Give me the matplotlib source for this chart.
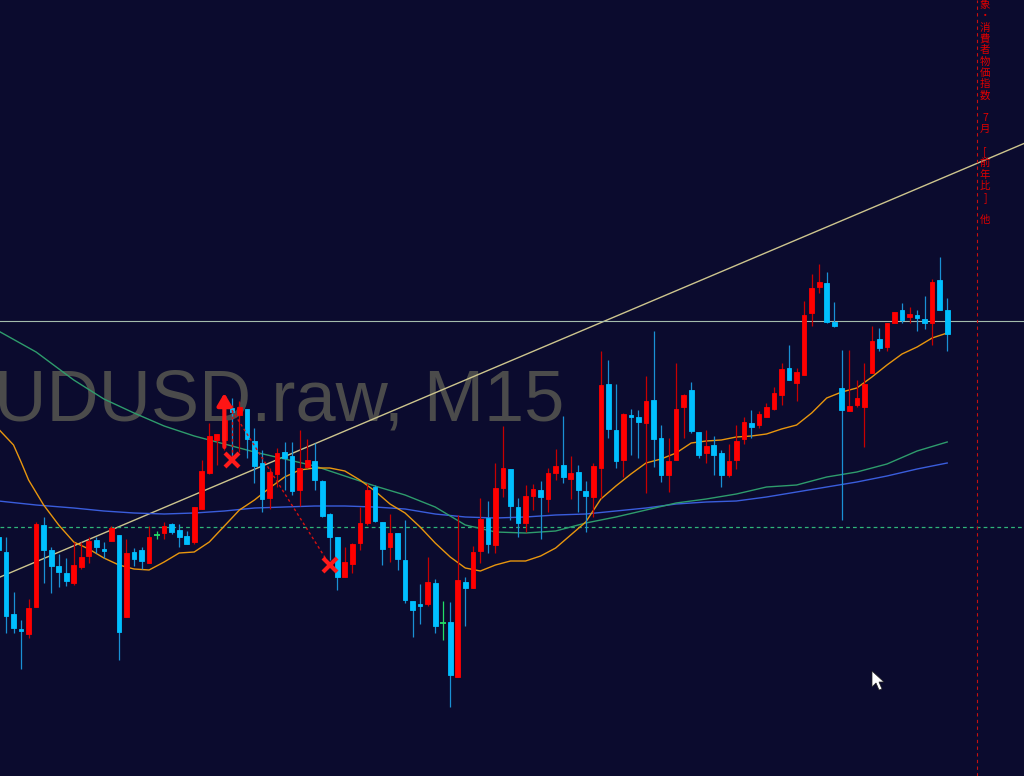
import matplotlib.pyplot as plt
import numpy as np
from matplotlib.patches import Polygon

# AUDUSD M15 bars, first bar (index -1) is cut by the left edge
start_index = -1
opens = [0.67463, 0.67448, 0.67386, 0.67371, 0.67366, 0.67393, 0.67475, 0.67450, 0.67434, 0.67427,
         0.67417, 0.67433, 0.67444, 0.67460, 0.67451, 0.67459, 0.67465, 0.67383, 0.67448, 0.67450,
         0.67437, 0.67465, 0.67467, 0.67476, 0.67470, 0.67464, 0.67458, 0.67491, 0.67527, 0.67560,
         0.67560, 0.67592, 0.67585, 0.67591, 0.67559, 0.67537, 0.67502, 0.67526, 0.67548, 0.67544,
         0.67510, 0.67533, 0.67539, 0.67519, 0.67486, 0.67463, 0.67423, 0.67436, 0.67457, 0.67477,
         0.67513, 0.67478, 0.67453, 0.67467, 0.67440, 0.67399, 0.67396, 0.67396, 0.67417, 0.67377,
         0.67378, 0.67323, 0.67418, 0.67412, 0.67449, 0.67482, 0.67455, 0.67512, 0.67531, 0.67493,
         0.67477, 0.67504, 0.67510, 0.67501, 0.67527, 0.67535, 0.67521, 0.67528, 0.67509, 0.67503,
         0.67532, 0.67616, 0.67570, 0.67540, 0.67585, 0.67583, 0.67577, 0.67600, 0.67562, 0.67525,
         0.67540, 0.67593, 0.67610, 0.67568, 0.67547, 0.67555, 0.67547, 0.67525, 0.67540, 0.67561,
         0.67577, 0.67575, 0.67583, 0.67591, 0.67605, 0.67632, 0.67617, 0.67625, 0.67687, 0.67713,
         0.67717, 0.67678, 0.67612, 0.67589, 0.67595, 0.67593, 0.67627, 0.67661, 0.67653, 0.67677,
         0.67690, 0.67683, 0.67685, 0.67681, 0.67677, 0.67720, 0.67690]
highs = [0.67470, 0.67463, 0.67408, 0.67380, 0.67401, 0.67478, 0.67483, 0.67453, 0.67446, 0.67442,
         0.67458, 0.67458, 0.67463, 0.67463, 0.67458, 0.67474, 0.67465, 0.67461, 0.67452, 0.67453,
         0.67474, 0.67469, 0.67478, 0.67477, 0.67476, 0.67469, 0.67493, 0.67540, 0.67577, 0.67566,
         0.67592, 0.67602, 0.67599, 0.67591, 0.67572, 0.67550, 0.67532, 0.67552, 0.67558, 0.67558,
         0.67570, 0.67561, 0.67557, 0.67520, 0.67487, 0.67463, 0.67453, 0.67457, 0.67493, 0.67517,
         0.67515, 0.67478, 0.67486, 0.67467, 0.67480, 0.67399, 0.67416, 0.67443, 0.67421, 0.67399,
         0.67398, 0.67485, 0.67423, 0.67454, 0.67502, 0.67499, 0.67537, 0.67574, 0.67531, 0.67502,
         0.67515, 0.67516, 0.67519, 0.67532, 0.67551, 0.67584, 0.67544, 0.67535, 0.67519, 0.67537,
         0.67649, 0.67640, 0.67616, 0.67587, 0.67591, 0.67590, 0.67624, 0.67669, 0.67575, 0.67562,
         0.67637, 0.67606, 0.67618, 0.67568, 0.67570, 0.67564, 0.67550, 0.67556, 0.67575, 0.67583,
         0.67590, 0.67589, 0.67597, 0.67613, 0.67637, 0.67655, 0.67632, 0.67699, 0.67726, 0.67736,
         0.67728, 0.67698, 0.67650, 0.67650, 0.67620, 0.67637, 0.67674, 0.67672, 0.67677, 0.67688,
         0.67697, 0.67693, 0.67690, 0.67704, 0.67721, 0.67743, 0.67702]
lows = [0.67445, 0.67367, 0.67367, 0.67331, 0.67362, 0.67393, 0.67417, 0.67407, 0.67413, 0.67414,
        0.67415, 0.67431, 0.67437, 0.67447, 0.67442, 0.67459, 0.67340, 0.67383, 0.67434, 0.67431,
        0.67437, 0.67461, 0.67461, 0.67466, 0.67453, 0.67456, 0.67456, 0.67491, 0.67526, 0.67535,
        0.67550, 0.67540, 0.67548, 0.67542, 0.67517, 0.67488, 0.67491, 0.67513, 0.67510, 0.67505,
        0.67494, 0.67532, 0.67510, 0.67483, 0.67440, 0.67410, 0.67423, 0.67427, 0.67450, 0.67475,
        0.67478, 0.67435, 0.67438, 0.67430, 0.67397, 0.67363, 0.67376, 0.67394, 0.67367, 0.67360,
        0.67293, 0.67323, 0.67374, 0.67412, 0.67437, 0.67447, 0.67447, 0.67503, 0.67480, 0.67463,
        0.67468, 0.67490, 0.67461, 0.67488, 0.67520, 0.67517, 0.67501, 0.67488, 0.67468, 0.67483,
        0.67502, 0.67562, 0.67532, 0.67523, 0.67545, 0.67542, 0.67507, 0.67533, 0.67518, 0.67508,
        0.67540, 0.67562, 0.67567, 0.67542, 0.67537, 0.67525, 0.67513, 0.67523, 0.67531, 0.67556,
        0.67562, 0.67572, 0.67583, 0.67590, 0.67595, 0.67620, 0.67599, 0.67625, 0.67674, 0.67707,
        0.67677, 0.67673, 0.67480, 0.67589, 0.67593, 0.67553, 0.67627, 0.67649, 0.67649, 0.67677,
        0.67677, 0.67677, 0.67669, 0.67671, 0.67655, 0.67690, 0.67649]
closes = [0.67450, 0.67384, 0.67372, 0.67369, 0.67392, 0.67476, 0.67450, 0.67434, 0.67428, 0.67419,
          0.67435, 0.67443, 0.67459, 0.67453, 0.67449, 0.67472, 0.67368, 0.67447, 0.67441, 0.67439,
          0.67463, 0.67465, 0.67474, 0.67468, 0.67463, 0.67456, 0.67493, 0.67529, 0.67564, 0.67566,
          0.67580, 0.67588, 0.67593, 0.67561, 0.67534, 0.67501, 0.67528, 0.67547, 0.67542, 0.67509,
          0.67532, 0.67540, 0.67520, 0.67484, 0.67463, 0.67423, 0.67438, 0.67456, 0.67477, 0.67510,
          0.67479, 0.67451, 0.67467, 0.67441, 0.67400, 0.67390, 0.67394, 0.67418, 0.67374, 0.67377,
          0.67325, 0.67420, 0.67412, 0.67448, 0.67481, 0.67456, 0.67512, 0.67532, 0.67494, 0.67477,
          0.67504, 0.67511, 0.67503, 0.67527, 0.67534, 0.67523, 0.67527, 0.67510, 0.67504, 0.67534,
          0.67615, 0.67571, 0.67539, 0.67586, 0.67583, 0.67578, 0.67599, 0.67561, 0.67525, 0.67539,
          0.67591, 0.67605, 0.67569, 0.67545, 0.67554, 0.67545, 0.67525, 0.67539, 0.67559, 0.67578,
          0.67573, 0.67586, 0.67593, 0.67607, 0.67631, 0.67620, 0.67628, 0.67685, 0.67712, 0.67718,
          0.67678, 0.67674, 0.67590, 0.67594, 0.67602, 0.67616, 0.67659, 0.67652, 0.67677, 0.67688,
          0.67680, 0.67686, 0.67682, 0.67677, 0.67718, 0.67690, 0.67666]

# moving averages (bar index, price)
ma_fast_idx = [-1, 1, 2, 3, 5, 7, 9, 11, 13, 15, 17, 19, 21, 23, 25, 27, 29, 31, 33, 35, 37, 39, 41,
               43, 45, 47, 49, 51, 53, 55, 57, 59, 61, 63, 65, 67, 69, 71, 73, 75, 77, 79, 81, 83,
               85, 87, 89, 91, 93, 95, 97, 99, 101, 103, 105, 107, 109, 111, 113, 115, 117, 119,
               121, 123, 125]
ma_fast = [0.67571, 0.67555, 0.67538, 0.67520, 0.67495, 0.67475, 0.67458, 0.67451, 0.67442, 0.67435,
           0.67431, 0.67430, 0.67438, 0.67447, 0.67448, 0.67458, 0.67474, 0.67490, 0.67500, 0.67512,
           0.67523, 0.67530, 0.67532, 0.67532, 0.67529, 0.67520, 0.67509, 0.67496, 0.67487, 0.67473,
           0.67457, 0.67443, 0.67432, 0.67429, 0.67435, 0.67439, 0.67439, 0.67444, 0.67452, 0.67465,
           0.67478, 0.67501, 0.67514, 0.67526, 0.67537, 0.67541, 0.67547, 0.67557, 0.67559, 0.67560,
           0.67563, 0.67564, 0.67566, 0.67571, 0.67575, 0.67587, 0.67602, 0.67608, 0.67612, 0.67623,
           0.67635, 0.67646, 0.67653, 0.67662, 0.67667]
ma_mid_idx = [-1, 4, 9, 13, 17, 21, 25, 29, 33, 37, 41, 45, 49, 53, 57, 61, 65, 69, 73, 77, 81, 85,
              89, 93, 97, 101, 105, 109, 113, 117, 121, 125]
ma_mid = [0.67669, 0.67648, 0.67620, 0.67601, 0.67587, 0.67574, 0.67564, 0.67556, 0.67548, 0.67541,
          0.67534, 0.67524, 0.67514, 0.67505, 0.67493, 0.67475, 0.67468, 0.67467, 0.67469, 0.67477,
          0.67483, 0.67490, 0.67497, 0.67501, 0.67506, 0.67513, 0.67515, 0.67523, 0.67528, 0.67536,
          0.67549, 0.67558]
ma_slow_idx = ma_mid_idx
ma_slow = [0.67499, 0.67495, 0.67492, 0.67489, 0.67487, 0.67486, 0.67487, 0.67489, 0.67492, 0.67493,
           0.67494, 0.67494, 0.67493, 0.67491, 0.67486, 0.67483, 0.67482, 0.67483, 0.67485, 0.67486,
           0.67489, 0.67492, 0.67496, 0.67498, 0.67499, 0.67503, 0.67508, 0.67513, 0.67518, 0.67524,
           0.67531, 0.67537]

trend_a = (0, 0.674255)
trend_b = (125, 0.67824)
level_price = 0.67679
dash_price = 0.67473
event_index = 129
event_text = "象・消費者物価指数 7月 [前年比] 他"

# buy arrow and the two exits
arrow_index, arrow_tail, arrow_tip = 29, 0.67553, 0.67607
exit_idx = [30, 43]
exit_price = [0.67540, 0.67435]
entry_idx = [30, 30]
entry_price = [0.67595, 0.67590]

bg = '#0b0b2e'
fig = plt.figure(figsize=(10.24, 7.76), dpi=100, facecolor=bg)
ax = fig.add_axes([0, 0, 1, 1])
ax.set_facecolor(bg)
ax.set_xticks([])
ax.set_yticks([])
for s in ax.spines.values():
    s.set_visible(False)
ax.set_xlim(-0.797, 135.2)
ax.set_ylim(0.67224, 0.68000)

ax.text(-54 / 1024, 1 - 421 / 776, "AUDUSD.raw, M15", transform=ax.transAxes,
        fontsize=52, color='#4b4b4b', family='Liberation Sans', va='baseline', zorder=0.5)

idx = np.arange(start_index, start_index + len(opens))
o = np.array(opens)
h = np.array(highs)
l = np.array(lows)
c = np.array(closes)
up = c > o
flat = c == o
body_col = np.where(up, '#ff0000', np.where(flat, '#22dd66', '#00bfff'))
wick_col = np.where(up, '#c80000', np.where(flat, '#22dd66', '#1a90d4'))

ax.axline(trend_a, trend_b, color='#cdc58e', lw=1.0, zorder=2)
ax.axhline(level_price, color='#a3bcac', lw=0.8, zorder=2)
ax.axhline(dash_price, color='#2fb57a', lw=0.9, ls=(0, (3, 2.5)), zorder=2)
ax.axvline(event_index, color='#c81010', lw=0.8, ls=(0, (3, 3)), zorder=2)

ax.plot(ma_slow_idx, ma_slow, color='#3a5ddc', lw=1.0, zorder=2.5)
ax.plot(ma_mid_idx, ma_mid, color='#2e9c6c', lw=1.0, zorder=2.5)
ax.plot(ma_fast_idx, ma_fast, color='#e8960e', lw=1.0, zorder=2.5)

ax.vlines(idx, l, h, colors=wick_col, lw=0.9, zorder=3)
nf = ~flat
ax.bar(idx[nf], np.abs(c - o)[nf], bottom=np.minimum(o, c)[nf], width=0.62,
       color=body_col[nf], edgecolor=body_col[nf], linewidth=0.6, zorder=4)
ax.hlines(o[flat], idx[flat] - 0.4, idx[flat] + 0.4, colors='#22dd66', lw=1.3, zorder=4)

# trade markers
for ei, ep, xi, xp in zip(entry_idx, entry_price, exit_idx, exit_price):
    ax.plot([ei, xi], [ep, xp], color='#d41010', lw=1.0, ls=(0, (2, 2)), zorder=5)
ax.annotate('', xy=(arrow_index, arrow_tip), xytext=(arrow_index, arrow_tail),
            arrowprops=dict(arrowstyle='-|>,head_length=0.6,head_width=0.35', color='#ff1515',
                            lw=3.0, shrinkA=0, shrinkB=0, mutation_scale=12), zorder=6)
ax.plot(exit_idx, exit_price, 'x', ms=10, mew=3, color='#ff1a1a', zorder=6)

# event label, written top to bottom
chars = list(event_text.replace(' ', '\u3000'))
for k, ch in enumerate(chars):
    fig.text(985 / 1024, 1 - (5 + k * 11.3) / 776, ch, color='#e00000', fontsize=7.5,
             family=['Noto Sans CJK JP', 'DejaVu Sans'], ha='center', va='center')

# mouse pointer
cursor = np.array([[872, 671], [872, 687], [876, 683], [879, 690], [882, 689], [879, 682], [884, 682]])
fig.patches.append(Polygon(np.column_stack([cursor[:, 0] / 1024, 1 - cursor[:, 1] / 776]),
                           closed=True, transform=fig.transFigure, facecolor='white',
                           edgecolor='#222222', lw=0.5))

fig.savefig('out.png', dpi=100, facecolor=bg)
